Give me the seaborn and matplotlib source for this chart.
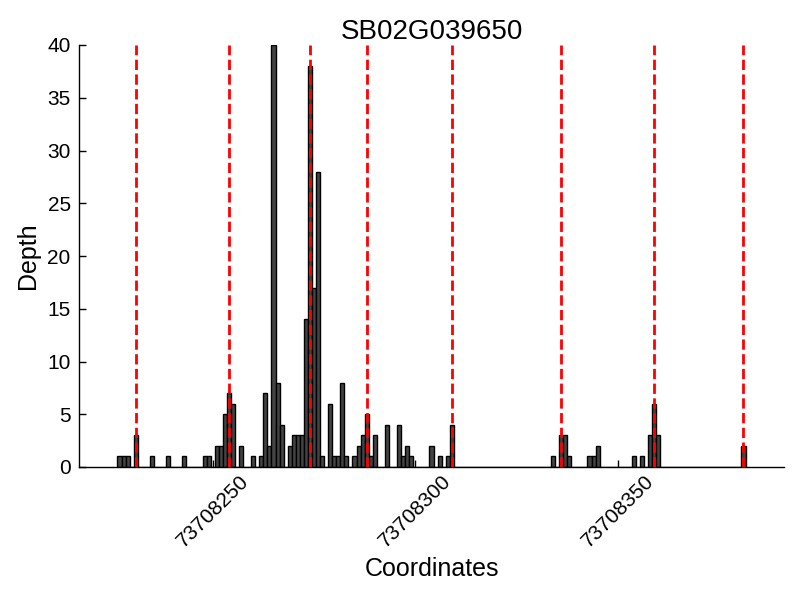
import matplotlib
matplotlib.use("Agg")
import matplotlib.pyplot as plt
import seaborn as sns
import pandas as pd

title = "SB02G039650"
coords = [73708227, 73708228, 73708229, 73708231, 73708235, 73708239, 73708243,
          73708248, 73708249, 73708251, 73708252, 73708253, 73708254, 73708255,
          73708257, 73708260, 73708262, 73708263, 73708264, 73708265, 73708266,
          73708267, 73708269, 73708270, 73708271, 73708272, 73708273, 73708274,
          73708275, 73708276, 73708277, 73708279, 73708280, 73708281, 73708282,
          73708283, 73708285, 73708286, 73708287, 73708288, 73708289, 73708290,
          73708293, 73708296, 73708297, 73708298, 73708299, 73708304, 73708306,
          73708308, 73708309, 73708334, 73708336, 73708337, 73708338, 73708343,
          73708344, 73708345, 73708354, 73708356, 73708358, 73708359, 73708360,
          73708381]
depths = [1, 1, 1, 3, 1, 1, 1,
          1, 1, 2, 2, 5, 7, 6,
          2, 1, 1, 7, 2, 40, 8,
          4, 2, 3, 3, 3, 14, 38,
          17, 28, 1, 6, 1, 1, 8,
          1, 1, 2, 3, 5, 1, 3,
          4, 4, 1, 2, 1, 2, 1,
          1, 4, 1, 3, 3, 1, 1,
          1, 2, 1, 1, 3, 6, 3,
          2]
marker_coords = [73708231, 73708254, 73708274, 73708288, 73708309,
                 73708336, 73708359, 73708381]
xticks = [73708250, 73708300, 73708350]
yticks = [0, 5, 10, 15, 20, 25, 30, 35, 40]

sns.set_style("ticks")
plt.rcParams['font.family'] = ['Liberation Sans', 'DejaVu Sans']
plt.rcParams['text.color'] = 'black'
plt.rcParams['axes.labelcolor'] = 'black'
plt.rcParams['xtick.color'] = 'black'
plt.rcParams['ytick.color'] = 'black'

df = pd.DataFrame({"Coordinates": coords, "Depth": depths})

fig = plt.figure(figsize=(8, 6), dpi=100)
ax = fig.add_axes([79/800, 1 - 467/600, (784 - 79)/800, (467 - 45)/600])

sns.histplot(data=df, x="Coordinates", weights="Depth", discrete=True,
             color="#444444", edgecolor="black", linewidth=1, alpha=1, ax=ax)

for m in marker_coords:
    ax.axvline(m, color="red", linestyle="--", linewidth=2, zorder=5)

ax.set_xlim(min(coords) - 10, max(coords) + 10)
ax.set_ylim(0, max(depths))
ax.set_xticks(xticks)
ax.set_xticklabels([str(t) for t in xticks], rotation=45, fontsize=15)
ax.set_yticks(yticks)
ax.set_yticklabels([str(t) for t in yticks], fontsize=15)
ax.tick_params(direction="in", length=5, width=1, colors="black", labelcolor="black")
ax.tick_params(axis="y", pad=6)
for s in ["top", "right"]:
    ax.spines[s].set_visible(False)
for s in ["left", "bottom"]:
    ax.spines[s].set_color("black")
    ax.spines[s].set_linewidth(1)

ax.set_xlabel("Coordinates", fontsize=18, color="black", labelpad=4)
ax.set_ylabel("Depth", fontsize=18, color="black", labelpad=5)
ax.set_title(title, fontsize=20, pad=4, color="black")

fig.savefig("out.png", dpi=100)
